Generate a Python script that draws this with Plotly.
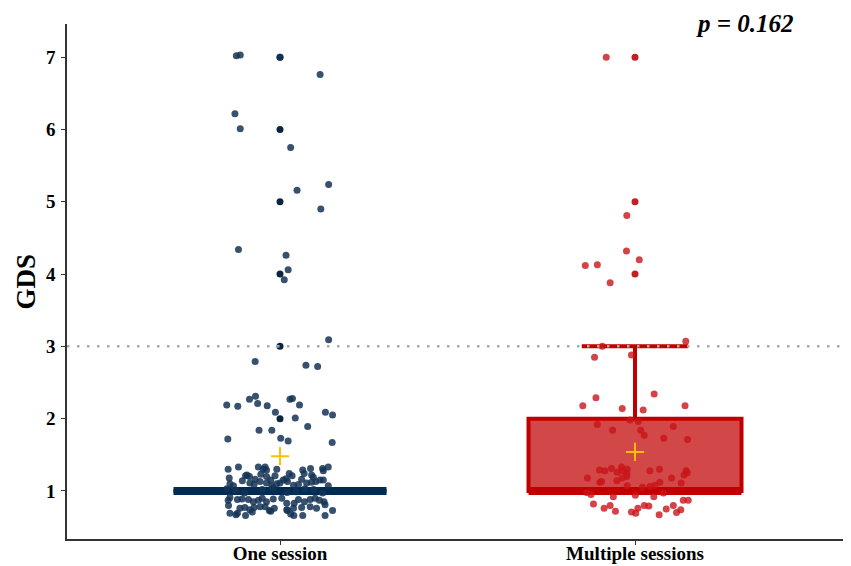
import plotly.graph_objects as go

groups = ["One session", "Multiple sessions"]
p_label = "p = 0.162"
y_title = "GDS"

# box statistics (q1, median, q3, lower whisker, upper whisker)
q1 = [1, 1]
median = [1, 1]
q3 = [1, 2]
lower_fence = [1, 1]
upper_fence = [1, 3]
means = [1.48, 1.54]
cutoff = 3

# outliers drawn at the group centre
one_outliers = [7, 6, 5, 4, 3, 2]
multi_outliers = [7, 5, 4]

# jittered observations: horizontal offset from group centre, jittered value
one_dx = [-0.123, -0.112, 0.0, 0.113, -0.127, -0.112, 0.030, 0.137, 0.048, 0.115,
          -0.117, 0.017, 0.023, 0.012, 0.137, -0.070, 0.073, 0.106, -0.069, -0.086,
          0.028, 0.035, -0.150, -0.063, -0.036, 0.055, -0.119, -0.013, 0.128, 0.148,
          0.043, 0.078, -0.059, -0.023, -0.147, 0.002, 0.023, 0.147,
          -0.146, -0.117, -0.061, -0.047, -0.042, -0.038, -0.009, 0.064, 0.086, 0.120,
          0.122, 0.136,
          -0.143, -0.097, -0.093, -0.086, -0.070, -0.054, -0.038, -0.026, -0.014, 0.009,
          0.017, 0.026, 0.034, 0.061, 0.068, 0.089, 0.094, 0.101, 0.113, 0.122,
          -0.141, -0.131, -0.106, -0.085, -0.073, -0.056, -0.038, -0.023, -0.009, 0.0,
          0.021, 0.038, 0.052, 0.075, 0.089, 0.136,
          -0.150, -0.100, -0.050, 0.020, 0.070, 0.120, -0.125, 0.045, 0.095, -0.020,
          -0.146, -0.141, -0.120, -0.107, -0.089, -0.075, -0.061, -0.050, -0.038, -0.019,
          0.005, 0.019, 0.040, 0.052, 0.069, 0.085, 0.099, 0.111, 0.124,
          -0.145, -0.113, -0.099, -0.085, -0.073, -0.056, -0.042, -0.030, -0.016, 0.019,
          0.038, 0.061, 0.085, 0.103, 0.127,
          -0.141, -0.124, -0.120, -0.097, -0.078, -0.026, 0.021, 0.030, 0.039, 0.064,
          0.127, 0.148]
one_y = [7.02, 7.03, 7.0, 6.76, 6.22, 6.01, 5.75, 5.24, 5.16, 4.90,
         4.34, 4.26, 4.06, 3.92, 3.09, 2.79, 2.74, 2.72, 2.31, 2.27,
         2.27, 2.28, 2.19, 2.21, 2.18, 2.19, 2.17, 2.09, 2.09, 2.05,
         2.01, 1.89, 1.84, 1.84, 1.72, 1.73, 1.69, 1.67,
         1.30, 1.33, 1.33, 1.30, 1.33, 1.29, 1.30, 1.29, 1.31, 1.31,
         1.28, 1.33,
         1.18, 1.21, 1.22, 1.20, 1.16, 1.23, 1.20, 1.15, 1.21, 1.15,
         1.17, 1.24, 1.21, 1.16, 1.24, 1.22, 1.19, 1.13, 1.15, 1.15,
         1.10, 1.07, 1.14, 1.11, 1.09, 1.13, 1.11, 1.07, 1.10, 1.11,
         1.13, 1.08, 1.09, 1.11, 1.12, 1.07,
         1.03, 0.97, 1.02, 0.98, 1.03, 0.97, 1.01, 0.99, 1.02, 1.04,
         0.87, 0.91, 0.88, 0.89, 0.88, 0.85, 0.87, 0.90, 0.85, 0.89,
         0.90, 0.83, 0.83, 0.88, 0.85, 0.88, 0.90, 0.87, 0.85,
         0.80, 0.76, 0.77, 0.74, 0.77, 0.78, 0.78, 0.73, 0.76, 0.74,
         0.76, 0.77, 0.78, 0.76, 0.81,
         0.69, 0.67, 0.69, 0.66, 0.71, 0.72, 0.73, 0.68, 0.66, 0.66,
         0.66, 0.73]

multi_dx = [-0.081, -0.023, -0.024, 0.012, -0.140, -0.106, -0.070, 0.143, -0.092,
            -0.114, -0.010, -0.110, 0.054, -0.147, -0.036, 0.023, 0.141, -0.014,
            0.009, -0.106, 0.108, -0.063, 0.016, 0.026, 0.081, 0.148,
            -0.100, -0.085, -0.066, -0.050, -0.038, -0.035, -0.022, -0.023, -0.134,
            -0.099, -0.094, -0.051, -0.036, -0.023, 0.042, 0.069, 0.103, 0.130,
            0.138, 0.144, 0.147, -0.022, 0.021, 0.042, 0.056, 0.070,
            -0.136, -0.124, -0.061, 0.001, 0.053, 0.080, 0.136, 0.150,
            -0.117, -0.087, -0.070, -0.055, -0.010, 0.002, 0.008, 0.026, 0.039,
            0.068, 0.088, 0.108, 0.117, 0.129]
multi_y = [7.0, 4.81, 4.32, 4.20, 4.12, 4.13, 3.88, 3.07, 3.0,
           2.85, 2.88, 2.29, 2.34, 2.18, 2.14, 2.12, 2.18, 1.98,
           1.96, 1.92, 1.89, 1.84, 1.84, 1.77, 1.73, 1.71,
           1.29, 1.28, 1.31, 1.26, 1.33, 1.28, 1.30, 1.24, 1.18,
           1.12, 1.13, 1.14, 1.18, 1.20, 1.28, 1.30, 1.18, 1.11,
           1.22, 1.28, 1.25, 1.07, 1.05, 1.06, 1.08, 1.12,
           0.98, 0.95, 0.92, 0.94, 0.92, 0.97, 0.87, 0.87,
           0.82, 0.76, 0.80, 0.72, 0.71, 0.69, 0.76, 0.80, 0.79,
           0.67, 0.75, 0.80, 0.70, 0.74]

navy = "#002b54"
navy_pt = "rgba(20,50,85,0.85)"
red = "#c00000"
red_pt = "rgba(200,20,25,0.8)"
gold = "#ffc000"
font = "Liberation Serif"
tickfont = dict(family=font, size=19, color="black", weight="bold")

fig = go.Figure()

# boxes
fig.add_trace(go.Box(x=[1], q1=[q1[0]], median=[median[0]], q3=[q3[0]],
                     lowerfence=[lower_fence[0]], upperfence=[upper_fence[0]],
                     width=0.6, whiskerwidth=0.5, line=dict(color=navy, width=4),
                     fillcolor=navy, boxpoints=False, hoverinfo="skip"))
fig.add_trace(go.Box(x=[2], q1=[q1[1]], median=[median[1]], q3=[q3[1]],
                     lowerfence=[lower_fence[1]], upperfence=[upper_fence[1]],
                     width=0.6, whiskerwidth=0.5, line=dict(color=red, width=4),
                     fillcolor="rgba(192,0,0,0.72)", boxpoints=False, hoverinfo="skip"))

# thicker median lines (ggplot fatten)
for i, col in enumerate([navy, red]):
    fig.add_trace(go.Scatter(x=[i + 1 - 0.3, i + 1 + 0.3], y=[median[i], median[i]],
                             mode="lines", line=dict(color=col, width=8),
                             hoverinfo="skip"))

# outliers
fig.add_trace(go.Scatter(x=[1] * len(one_outliers), y=one_outliers, mode="markers",
                         marker=dict(color="#0a2540", size=7)))
fig.add_trace(go.Scatter(x=[2] * len(multi_outliers), y=multi_outliers, mode="markers",
                         marker=dict(color="#c41e22", size=7)))

# jittered points
fig.add_trace(go.Scatter(x=[1 + d for d in one_dx], y=one_y, mode="markers",
                         marker=dict(color=navy_pt, size=7)))
fig.add_trace(go.Scatter(x=[2 + d for d in multi_dx], y=multi_y, mode="markers",
                         marker=dict(color=red_pt, size=7)))

# means
fig.add_trace(go.Scatter(x=[1, 2], y=means, mode="markers",
                         marker=dict(symbol="cross-thin", size=13,
                                     line=dict(color=gold, width=2))))

fig.add_hline(y=cutoff, line=dict(color="#aaaaaa", width=2.5, dash="2.5px,7.5px"))

# p value and axis title kept just inside the figure edge
fig.add_annotation(x=2.31, y=1.031, xref="x", yref="paper", yanchor="top",
                   text="<b><i>" + p_label + "</i></b>",
                   showarrow=False, font=dict(family=font, size=25, color="black"))
fig.add_annotation(x=-0.0755, y=0.5, xref="paper", yref="paper", textangle=-90,
                   xanchor="left", yanchor="middle",
                   text="<b>" + y_title + "</b>", showarrow=False,
                   font=dict(family=font, size=27, color="black"))

# the page body adds an 8px offset, so margins are shifted to compensate
fig.update_layout(
    width=851, height=566,
    margin=dict(l=59, r=11, t=16, b=35),
    plot_bgcolor="white", paper_bgcolor="white",
    showlegend=False,
    font=dict(family=font, color="black"),
    xaxis=dict(range=[0.4, 2.6], tickvals=[1, 2], ticktext=groups,
               showline=True, linecolor="#333333", linewidth=1.5,
               ticks="outside", ticklen=4, tickcolor="#333333",
               showgrid=False, zeroline=False, automargin=False,
               ticklabelstandoff=-8, tickfont=tickfont),
    yaxis=dict(range=[0.335, 7.46], tickvals=[1, 2, 3, 4, 5, 6, 7],
               showline=True, linecolor="#333333", linewidth=1.5,
               ticks="outside", ticklen=4, tickcolor="#333333",
               showgrid=False, zeroline=False, automargin=False,
               ticklabelstandoff=2, tickfont=tickfont),
)

fig.write_html("out.html")
